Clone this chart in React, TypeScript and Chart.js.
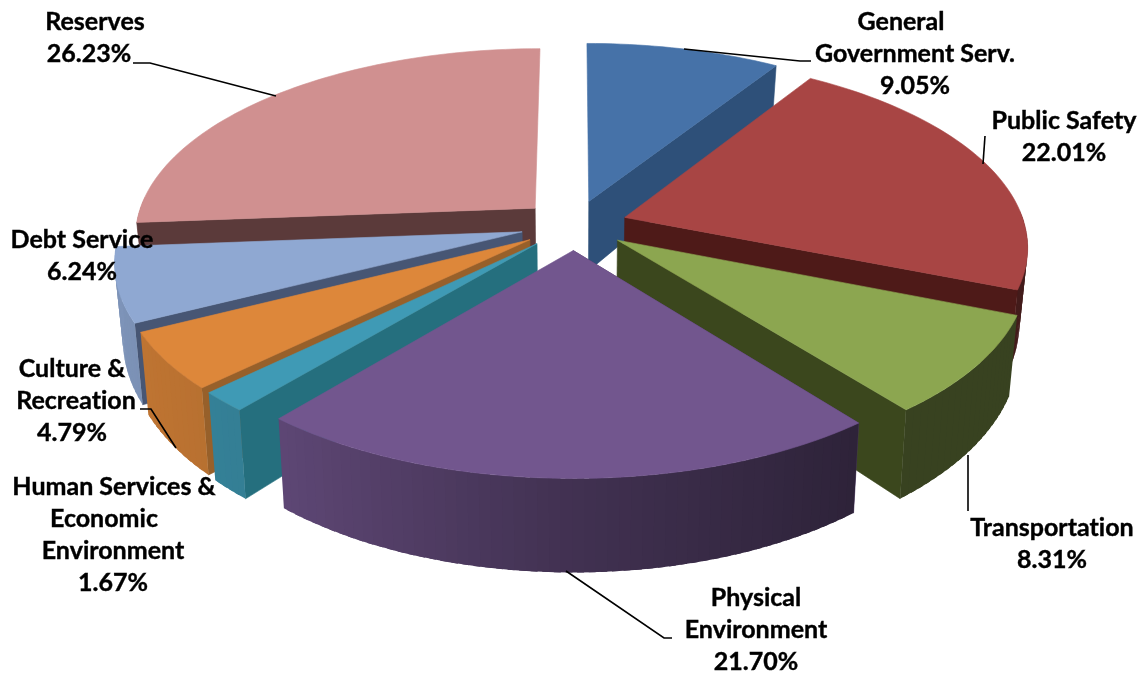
import React, { useEffect, useRef } from "react";
import { Chart, registerables } from "chart.js";

Chart.register(...registerables);

const categories = [
  "General Government Serv.",
  "Public Safety",
  "Transportation",
  "Physical Environment",
  "Human Services & Economic Environment",
  "Culture & Recreation",
  "Debt Service",
  "Reserves",
];
const shares = [9.05, 22.01, 8.31, 21.7, 1.67, 4.79, 6.24, 26.23];
const topColors = ["#4672A8", "#A84544", "#8CA650", "#72568E", "#3F9AB5", "#DD873A", "#8FA8D2", "#D09090"];
const wallColors = ["#2E5079", "#4E1A18", "#3B471D", "#4A3560", "#256F7E", "#97602A", "#475674", "#5B3A3A"];

const labelLines = [
  { lines: [["General", 901], ["Government Serv.", 915], ["9.05%", 915]], y: 22 },
  { lines: [["Public Safety", 1064], ["22.01%", 1064]], y: 121 },
  { lines: [["Transportation", 1052], ["8.31%", 1052]], y: 528 },
  { lines: [["Physical", 756], ["Environment", 756], ["21.70%", 756]], y: 598 },
  { lines: [["Human Services &", 114], ["Economic", 104], ["Environment", 113], ["1.67%", 113]], y: 487 },
  { lines: [["Culture &", 72], ["Recreation", 76], ["4.79%", 72]], y: 369 },
  { lines: [["Debt Service", 82], ["6.24%", 82]], y: 240 },
  { lines: [["Reserves", 95], ["26.23%", 89]], y: 22 },
];
const leaders = [
  [[684, 49], [800, 61], [811, 61]],
  [[985, 136], [983, 164]],
  [[968, 455], [968, 511]],
  [[566, 571], [664, 638], [672, 638]],
  [[140, 409], [151, 409], [176, 448]],
  [[133, 63], [150, 63], [276, 96]],
];

const CX = 574, CY = 225, A = 400, B = 187, K = 0.144, E = 0.134, D0 = 72, DV = 0.27;

function project(u: number, v: number, z: number): [number, number] {
  const s = 1 / (1 - K * v);
  const x = A * u * s * (1 - 0.018 * z);
  const y = B * v * s + z * D0 * (1 + DV * v);
  return [CX + x, CY + y];
}

function rgb(hex: string) {
  return [1, 3, 5].map((i) => parseInt(hex.slice(i, i + 2), 16));
}
function shade(hex: string, f: number) {
  const [r, g, b] = rgb(hex);
  return `rgb(${Math.round(r * f)},${Math.round(g * f)},${Math.round(b * f)})`;
}
// brightness of the outer rim according to where it faces
function rimF(sinT: number) {
  const xs = [-1, -0.64, 0, 0.62, 1];
  const ys = [0.88, 0.82, 0.57, 0.4, 0.4];
  for (let i = 0; i < 4; i++) {
    if (sinT <= xs[i + 1]) {
      const t = (sinT - xs[i]) / (xs[i + 1] - xs[i]);
      return ys[i] + t * (ys[i + 1] - ys[i]);
    }
  }
  return 0.4;
}

function poly(ctx: CanvasRenderingContext2D, pts: [number, number][], color: string, edge: boolean) {
  ctx.beginPath();
  pts.forEach((p, i) => (i ? ctx.lineTo(p[0], p[1]) : ctx.moveTo(p[0], p[1])));
  ctx.closePath();
  ctx.fillStyle = color;
  ctx.fill();
  if (edge) {
    ctx.strokeStyle = color;
    ctx.lineWidth = 0.6;
    ctx.lineJoin = "round";
    ctx.stroke();
  }
}

const pie3d = {
  id: "pie3d",
  beforeDatasetDraw() {
    return false;
  },
  afterDatasetsDraw(chart: any) {
    const ctx: CanvasRenderingContext2D = chart.ctx;
    const arcs = chart.getDatasetMeta(0).data as any[];
    const slices = arcs.map((arc, i) => {
      const a0 = arc.startAngle + Math.PI / 2;
      const a1 = arc.endAngle + Math.PI / 2;
      const mid = (a0 + a1) / 2;
      return { i, a0, a1, ou: E * Math.sin(mid), ov: -E * Math.cos(mid) };
    });
    slices.sort((p, q) => p.ov - q.ov);
    ctx.save();
    for (const sl of slices) {
      const col = topColors[sl.i];
      const pt = (r: number, a: number): [number, number] => [sl.ou + r * Math.sin(a), sl.ov - r * Math.cos(a)];
      const n = Math.max(4, Math.ceil((sl.a1 - sl.a0) / 0.025));
      const wall = wallColors[sl.i];
      // radial walls: the side that looks away from the chart's centre line is not drawn
      const radial: [number, boolean][] = [[sl.a0, sl.ou <= 0], [sl.a1, sl.ou >= 0]];
      const walls: [number, number][][] = [];
      for (const [a, show] of radial) {
        if (!show) continue;
        const [u, v] = pt(1, a);
        walls.push([
          project(sl.ou, sl.ov, 0),
          project(u, v, 0),
          project(u, v, 1),
          project(sl.ou, sl.ov, 1),
        ]);
      }
      const rims: { pts: [number, number][]; color: string }[] = [];
      for (let k = 0; k < n; k++) {
        const b0 = sl.a0 + ((sl.a1 - sl.a0) * k) / n;
        const bMid = b0 + (sl.a1 - sl.a0) / n / 2;
        if (Math.cos(bMid) > 0.05) continue; // faces away from the viewer
        const bEnd = Math.min(sl.a0 + ((sl.a1 - sl.a0) * (k + 1.6)) / n, sl.a1);
        const [u0, v0] = pt(1, b0);
        const [u1, v1] = pt(1, bEnd);
        rims.push({
          pts: [project(u0, v0, 0), project(u1, v1, 0), project(u1, v1, 1), project(u0, v0, 1)],
          color: shade(col, rimF(Math.sin(bMid))),
        });
      }
      // whichever of walls and rim faces the viewer more goes on top
      const rimFirst = Math.cos((sl.a0 + sl.a1) / 2) > 0.3;
      if (rimFirst) {
        rims.forEach((f) => poly(ctx, f.pts, f.color, false));
        walls.forEach((f) => poly(ctx, f, wall, true));
      } else {
        walls.forEach((f) => poly(ctx, f, wall, true));
        rims.forEach((f) => poly(ctx, f.pts, f.color, false));
      }
      const top: [number, number][] = [project(sl.ou, sl.ov, 0)];
      for (let k = 0; k <= n; k++) {
        const [u, v] = pt(1, sl.a0 + ((sl.a1 - sl.a0) * k) / n);
        top.push(project(u, v, 0));
      }
      poly(ctx, top, col, true);
    }
    // leader lines
    ctx.strokeStyle = "#000";
    ctx.lineWidth = 1.6;
    ctx.lineJoin = "miter";
    leaders.forEach((l) => {
      ctx.beginPath();
      l.forEach((p, i) => (i ? ctx.lineTo(p[0], p[1]) : ctx.moveTo(p[0], p[1])));
      ctx.stroke();
    });
    // labels
    ctx.fillStyle = "#000";
    ctx.strokeStyle = "#000";
    ctx.lineWidth = 0.4;
    ctx.font = "bold 25px Lato";
    (ctx as any).letterSpacing = "0.01px";
    ctx.textAlign = "center";
    ctx.textBaseline = "middle";
    labelLines.forEach((lab) => {
      lab.lines.forEach((t, i) => {
        ctx.fillText(t[0] as string, t[1] as number, lab.y + i * 32);
        ctx.strokeText(t[0] as string, t[1] as number, lab.y + i * 32);
      });
    });
    ctx.restore();
  },
};

export default function App() {
  const ref = useRef<HTMLCanvasElement>(null);
  useEffect(() => {
    const chart = new Chart(ref.current as HTMLCanvasElement, {
      type: "pie",
      data: {
        labels: categories,
        datasets: [{ data: shares, backgroundColor: topColors, borderWidth: 0 }],
      },
      options: {
        animation: false,
        responsive: false,
        devicePixelRatio: 1,
        plugins: { legend: { display: false }, tooltip: { enabled: false } },
      },
      plugins: [pie3d as any],
    });
    return () => chart.destroy();
  }, []);
  return (
    <div style={{ position: "absolute", left: 0, top: 0, width: 1139, height: 675, background: "#fff" }}>
      <canvas ref={ref} width={1139} height={675} style={{ display: "block" }} />
    </div>
  );
}
